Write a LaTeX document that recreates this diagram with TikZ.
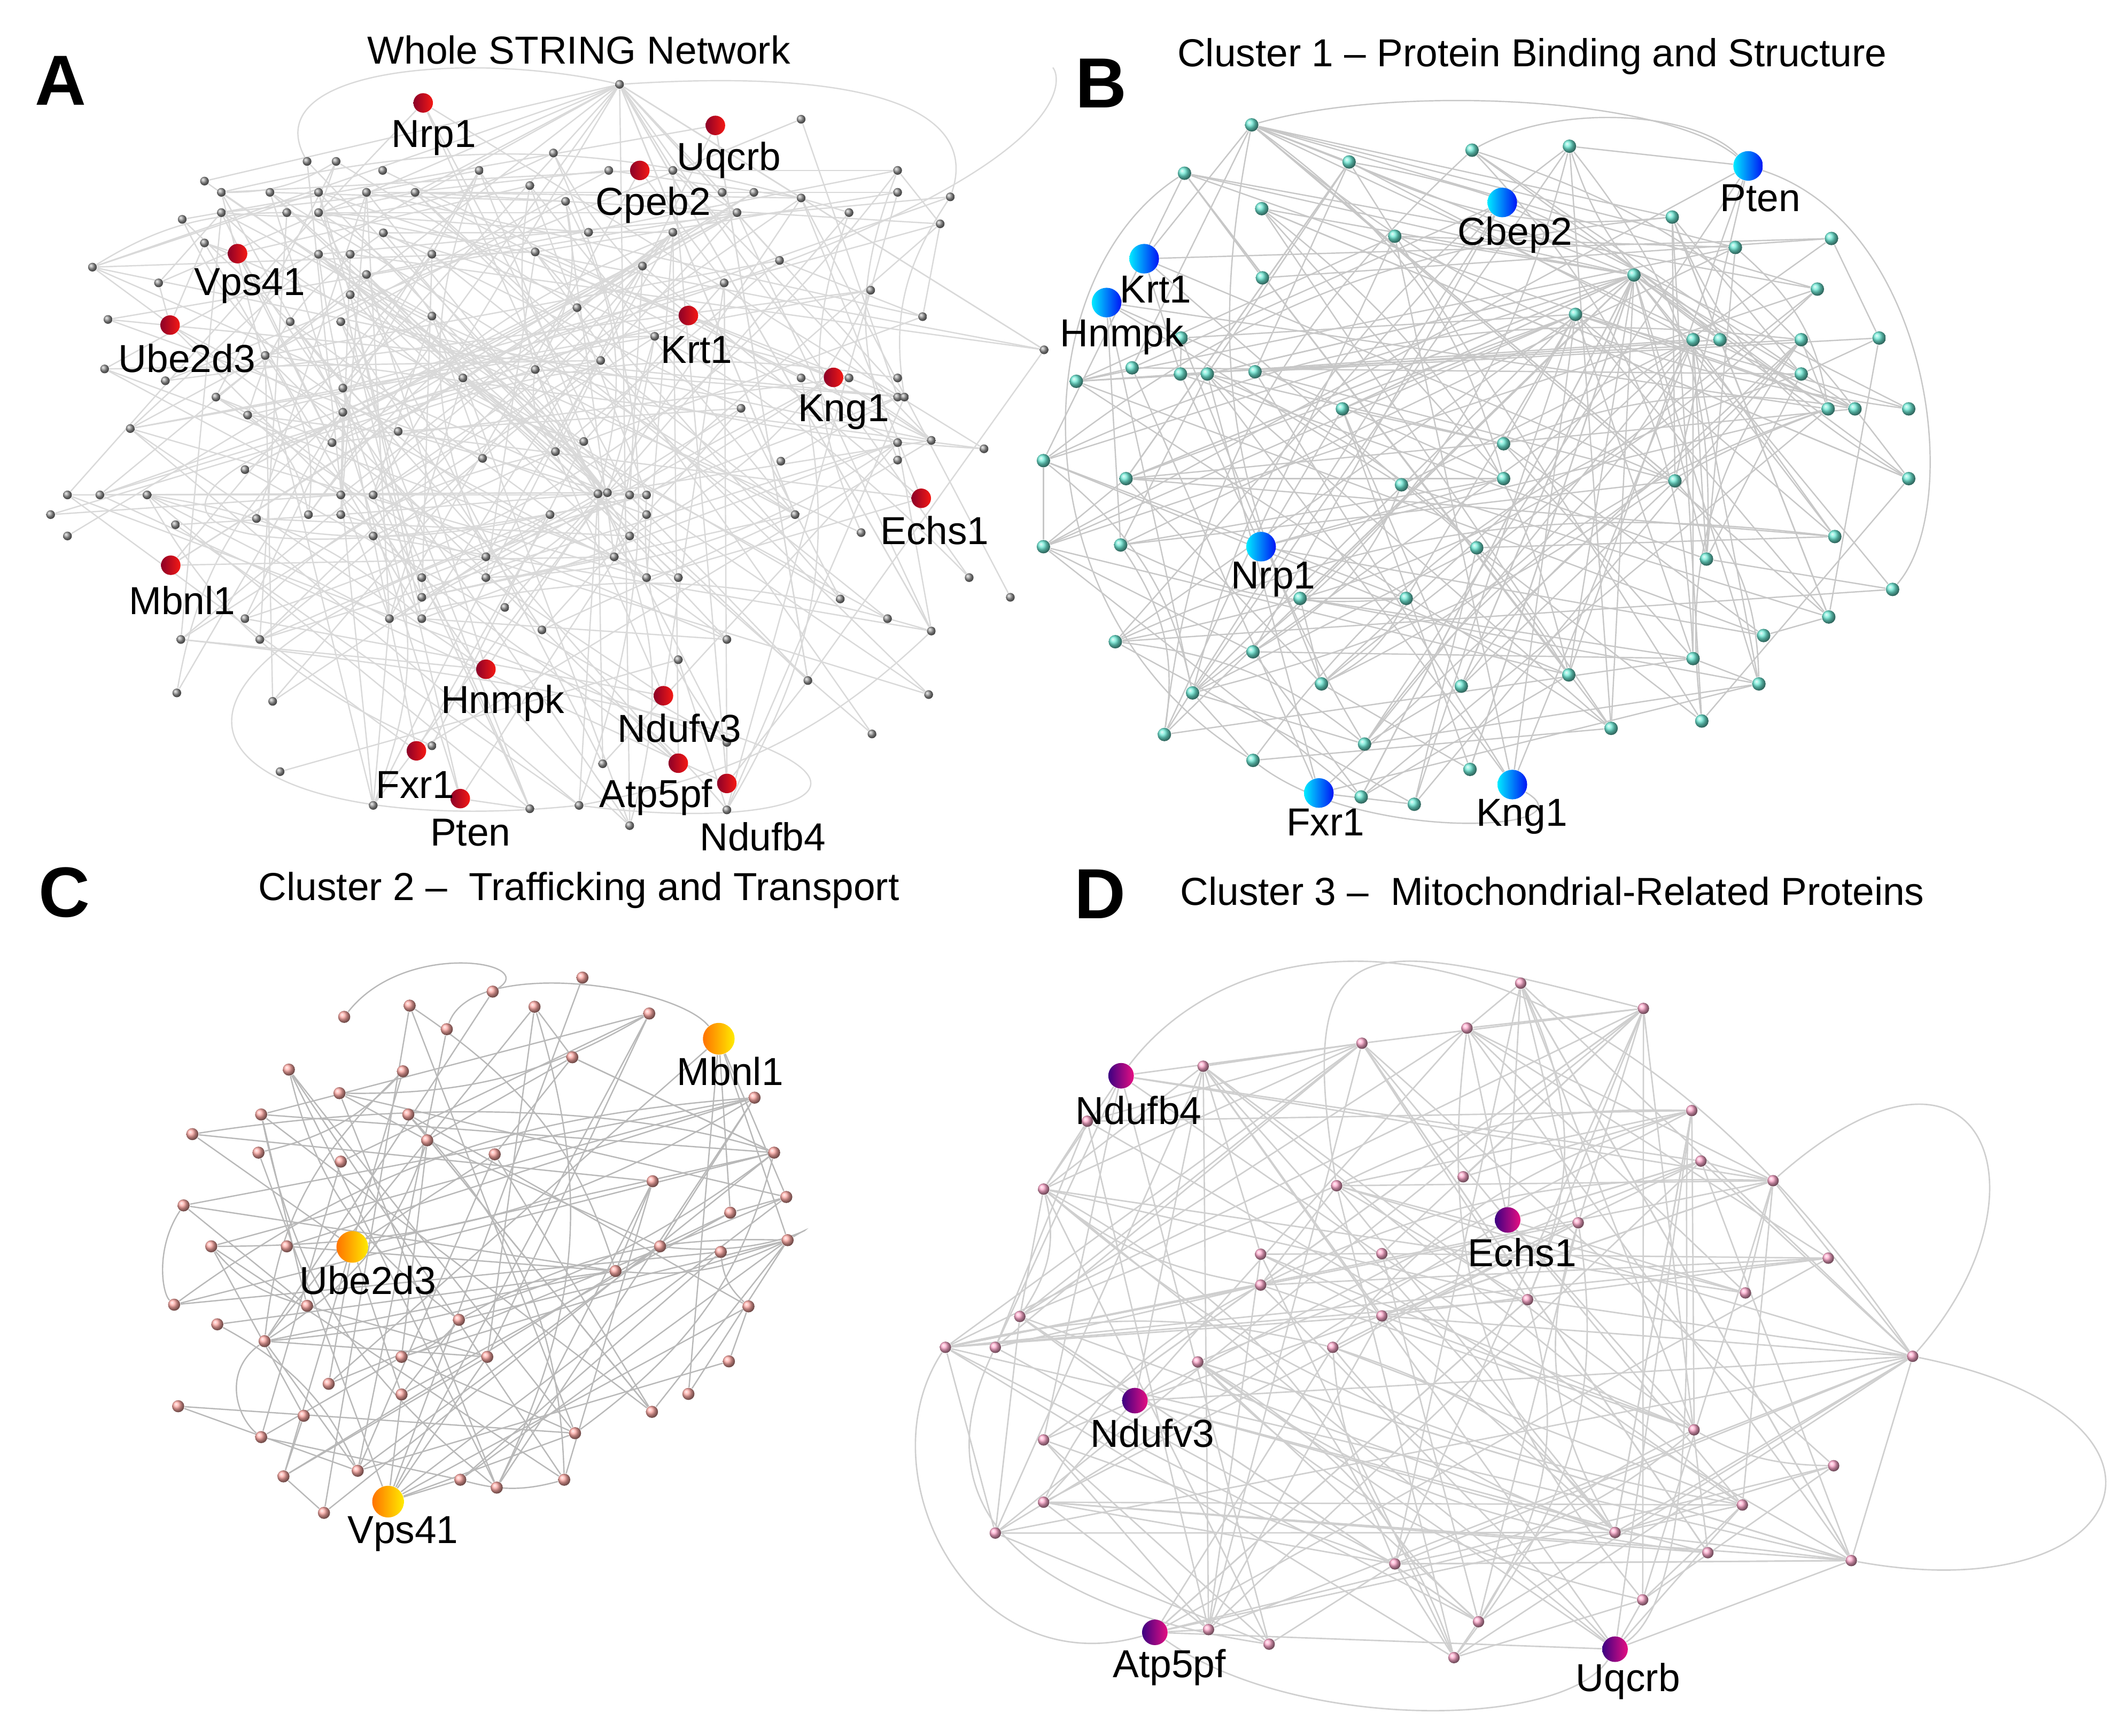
\documentclass[tikz,border=0pt]{standalone}
\usepackage{fontspec}
\setmainfont{Liberation Sans}
\pgfdeclarelayer{edges}
\pgfsetlayers{edges,main}
\definecolor{redL}{RGB}{140,0,40}
\definecolor{redR}{RGB}{245,25,20}
\definecolor{blueL}{RGB}{0,235,255}
\definecolor{blueR}{RGB}{0,20,245}
\definecolor{oraL}{RGB}{255,115,0}
\definecolor{oraR}{RGB}{255,235,0}
\definecolor{purL}{RGB}{60,0,130}
\definecolor{purR}{RGB}{230,15,130}
\definecolor{cyanN}{RGB}{110,235,215}
\definecolor{salN}{RGB}{255,170,165}
\definecolor{pinkN}{RGB}{255,170,205}
\tikzset{
  lbl/.style={font=\fontsize{16.5}{18}\selectfont, inner sep=0pt},
  ttl/.style={font=\fontsize{16.5}{18}\selectfont, inner sep=0pt},
  letter/.style={font=\fontsize{30}{32}\selectfont\bfseries, inner sep=0pt},
  keyred/.style={circle, inner sep=0pt, minimum size=0.29cm, left color=redL, right color=redR},
  keyblue/.style={circle, inner sep=0pt, minimum size=0.44cm, left color=blueL, right color=blueR},
  keyora/.style={circle, inner sep=0pt, minimum size=0.47cm, left color=oraL, right color=oraR},
  keypur/.style={circle, inner sep=0pt, minimum size=0.38cm, left color=purL, right color=purR},
  gnode/.style={circle, inner sep=0pt, minimum size=0.13cm, ball color=gray!80},
  cnode/.style={circle, inner sep=0pt, minimum size=0.2cm, ball color=cyanN},
  snode/.style={circle, inner sep=0pt, minimum size=0.18cm, ball color=salN},
  pnode/.style={circle, inner sep=0pt, minimum size=0.17cm, ball color=pinkN},
  edgeA/.style={draw=black!15, line width=0.55pt},
  edgeB/.style={draw=black!22, line width=0.55pt},
  edgeC/.style={draw=black!28, line width=0.55pt},
  edgeD/.style={draw=black!19, line width=0.6pt},
}
\newcommand\randedges[4]{%
  \foreach \k in {1,...,#3}{%
    \pgfmathrandominteger{\ii}{1}{#2}%
    \pgfmathrandominteger{\jj}{1}{#2}%
    \ifnum\ii=\jj\relax\else
      \pgfmathtruncatemacro\mm{mod(\k,5)}%
      \ifnum\mm=0\relax
        \draw[#4] (#1\ii) to[bend left=18] (#1\jj);
      \else
        \draw[#4] (#1\ii) -- (#1\jj);
      \fi
    \fi}}
\newcommand\hubedges[5]{%
  \foreach \k in {1,...,#4}{%
    \pgfmathrandominteger{\jj}{1}{#3}%
    \draw[#5] (#1) -- (#2\jj);}}
\begin{document}
\begin{tikzpicture}[x=0.02cm,y=-0.02cm]
\pgfmathsetseed{2024}
\path[use as bounding box] (0,0) rectangle (1568,1289);
% ---------- titles ----------
\node[letter] (letA) at (45,60) {A};
\node[letter] (letB) at (818,62) {B};
\node[letter] (letC) at (48,663) {C};
\node[letter] (letD) at (817,664) {D};
\node[ttl] (ttlA) at (430,37) {Whole STRING Network};
\node[ttl] (ttlB) at (1138,42) {Cluster 1 – Protein Binding and Structure};
\node[ttl] (ttlC) at (430,661) {Cluster 2 –~~Trafficking and Transport};
\node[ttl] (ttlD) at (1153,662) {Cluster 3 –~~Mitochondrial-Related Proteins};
% ================= PANEL A =================
\begin{scope}[xscale=0.5013, yscale=0.4177]
\foreach \x/\y [count=\n] in {1187/212, 455/287, 498/287, 567/303, 710/303, 820/272, 902/303, 997/303, 1330/303,
303/322, 328/342, 400/342, 472/342, 543/342, 615/342, 785/330, 838/358, 1070/342, 1117/342, 1187/352, 1330/342, 1408/350,
270/390, 328/378, 425/378, 472/378, 1092/378, 1258/378, 1393/398,
568/414, 872/413, 997/413,
303/432, 472/452, 519/452, 640/452, 793/448, 1155/463,
137/475, 235/503, 543/488, 519/524, 1073/503, 1290/516, 952/473,
160/568, 430/572, 505/572, 640/562, 855/547, 1367/563,
393/632, 970/598, 155/656, 245/677, 686/672, 793/657, 890/641, 1187/672, 1258/672, 1330/672, 1547/622,
320/706, 508/690, 367/738, 508/733, 1098/726, 1330/706, 1340/706,
193/762, 590/767, 492/787, 865/785, 823/803, 1330/787, 1380/783, 1458/798,
363/835, 715/815, 1157/820, 1330/818,
100/880, 148/880, 218/880, 505/880, 553/880, 886/878, 933/880, 958/880,
75/915, 380/922, 457/915, 505/915, 815/915, 958/915, 1178/915,
100/953, 260/933, 553/953, 933/953, 1276/947,
720/990, 910/990,
625/1027, 720/1027, 958/1027, 1005/1027, 1436/1027, 1497/1062,
625/1062, 748/1080, 1245/1065,
363/1100, 577/1100, 625/1100, 1315/1100,
268/1137, 385/1137, 803/1120, 1077/1137, 1380/1122,
1005/1173,
262/1232, 404/1247, 1197/1210, 1376/1235,
1292/1305,
640/1326, 1077/1320,
415/1372, 893/1358,
553/1432, 785/1438, 858/1432, 1077/1440, 933/1468}
{\node[gnode] (a\n) at (\x,\y) {}; \xdef\NA{\n}}
\node[gnode] (aHubTop) at (918,150) {};
\node[gnode] (aHubC) at (900,876) {};
\node[keyred] (aNrp1) at (627,183) {};
\node[keyred] (aUqcrb) at (1060,223) {};
\node[keyred] (aCpeb2) at (948,303) {};
\node[keyred] (aVps41) at (352,451) {};
\node[keyred] (aUbe2d3) at (252,578) {};
\node[keyred] (aKrt1) at (1020,561) {};
\node[keyred] (aKng1) at (1235,671) {};
\node[keyred] (aEchs1) at (1365,886) {};
\node[keyred] (aMbnl1) at (253,1005) {};
\node[keyred] (aHnmpk) at (720,1190) {};
\node[keyred] (aNdufv3) at (983,1237) {};
\node[keyred] (aFxr1) at (617,1335) {};
\node[keyred] (aPten) at (682,1420) {};
\node[keyred] (aAtp5pf) at (1005,1357) {};
\node[keyred] (aNdufb4) at (1077,1393) {};
\node[lbl] (laNrp1) at (643,245) {Nrp1};
\node[lbl] (laUqcrb) at (1080,285) {Uqcrb};
\node[lbl] (laCpeb2) at (968,365) {Cpeb2};
\node[lbl] (laVps41) at (370,508) {Vps41};
\node[lbl] (laUbe2d3) at (277,637) {Ube2d3};
\node[lbl] (laKrt1) at (1032,622) {Krt1};
\node[lbl] (laKng1) at (1250,733) {Kng1};
\node[lbl] (laEchs1) at (1385,943) {Echs1};
\node[lbl] (laMbnl1) at (270,1068) {Mbnl1};
\node[lbl] (laHnmpk) at (745,1250) {Hnmpk};
\node[lbl] (laNdufv3) at (1007,1295) {Ndufv3};
\node[lbl] (laFxr1) at (615,1395) {Fxr1};
\node[lbl] (laPten) at (697,1480) {Pten};
\node[lbl] (laAtp5pf) at (972,1418) {Atp5pf};
\node[lbl] (laNdufb4) at (1130,1488) {Ndufb4};
\begin{pgfonlayer}{edges}
\randedges{a}{\NA}{240}{edgeA}
\hubedges{aHubTop}{a}{\NA}{22}{edgeA}
\hubedges{aHubC}{a}{\NA}{22}{edgeA}
\foreach \kn in {aNrp1,aUqcrb,aCpeb2,aVps41,aUbe2d3,aKrt1,aKng1,aEchs1,aMbnl1,aHnmpk,aNdufv3,aFxr1,aPten,aAtp5pf,aNdufb4}
  {\hubedges{\kn}{a}{\NA}{4}{edgeA}}
\draw[edgeA] (a2) .. controls (380,120) and (700,90) .. (aHubTop);
\draw[edgeA] (aHubTop) .. controls (1300,120) and (1450,200) .. (a22);
\draw[edgeA] (a89) .. controls (20,1200) and (300,1500) .. (a134);
\draw[edgeA] (a134) .. controls (1300,1500) and (1500,1300) .. (a117);
\draw[edgeA] (a65) .. controls (1600,400) and (1580,150) .. (1560,120);
\draw[edgeA] (a58) .. controls (100,800) and (100,1100) .. (a89);
\end{pgfonlayer}
\end{scope}
% ================= PANEL B =================
\begin{scope}[shift={(786,0)}, xscale=0.499, yscale=0.4177]
\foreach \x/\y [count=\n] in {288/222, 433/288, 616/267, 761/260, 188/308, 303/371, 501/420, 914/386, 1008/440, 1151/424, 304/494, 1130/514, 770/559, 183/601, 945/604, 985/604, 1106/604, 1222/601, 27/678, 110/654, 182/665, 222/665, 293/661, 1106/665, 1146/727, 1186/727, 1266/727, 423/727, 663/789, 101/851, 511/862, 663/851, 918/855, 1266/851, 93/969, 623/974, 965/994, 1156/954, 360/1064, 518/1064, 1242/1048, 1147/1097, 1050/1130, 85/1141, 290/1159, 945/1171, 200/1232, 392/1216, 600/1220, 760/1200, 1043/1216, 158/1306, 456/1323, 823/1295, 958/1282, 290/1352, 613/1368, 451/1417, 530/1430, -22/819, -22/972}
{\node[cnode] (b\n) at (\x,\y) {}; \xdef\NB{\n}}
\node[cnode] (bHub) at (857,489) {};
\node[keyblue] (bPten) at (1027,295) {};
\node[keyblue] (bCbep2) at (661,360) {};
\node[keyblue] (bKrt1) at (128,460) {};
\node[keyblue] (bHnmpk) at (72,538) {};
\node[keyblue] (bNrp1) at (302,972) {};
\node[keyblue] (bFxr1) at (388,1410) {};
\node[keyblue] (bKng1) at (676,1395) {};
\node[lbl] (lbPten) at (1045,352) {Pten};
\node[lbl] (lbCbep2) at (680,418) {Cbep2};
\node[lbl] (lbKrt1) at (145,515) {Krt1};
\node[lbl] (lbHnmpk) at (95,598) {Hnmpk};
\node[lbl] (lbNrp1) at (320,1030) {Nrp1};
\node[lbl] (lbFxr1) at (398,1462) {Fxr1};
\node[lbl] (lbKng1) at (690,1452) {Kng1};
\begin{pgfonlayer}{edges}
\randedges{b}{\NB}{170}{edgeB}
\hubedges{bHub}{b}{\NB}{30}{edgeB}
\foreach \kn in {bPten,bCbep2,bKrt1,bHnmpk,bNrp1,bFxr1,bKng1}
  {\hubedges{\kn}{b}{\NB}{5}{edgeB}}
\draw[edgeB] (b1) .. controls (500,150) and (900,170) .. (bPten);
\draw[edgeB] (b5) .. controls (-60,500) and (-60,1100) .. (b56);
\draw[edgeB] (b56) .. controls (450,1500) and (800,1480) .. (bKng1);
\draw[edgeB] (bPten) .. controls (1300,400) and (1350,900) .. (b41);
\draw[edgeB] (b3) .. controls (750,180) and (950,200) .. (bPten);
\end{pgfonlayer}
\end{scope}
% ================= PANEL C =================
\begin{scope}[shift={(0,635.2)}, xscale=0.5013, yscale=0.4167]
\foreach \x/\y [count=\n] in {863/218, 730/243, 607/268, 792/270, 510/288, 962/282, 662/310, 848/360, 428/382, 597/385, 503/424, 1118/432, 387/462, 605/462, 285/497, 633/508, 383/530, 505/546, 733/533, 1147/530, 967/581, 272/624, 1165/609, 1082/637, 313/697, 425/697, 978/697, 1068/707, 1167/686, 912/741, 258/801, 455/803, 680/828, 1109/804, 322/836, 392/866, 595/894, 722/894, 1080/902, 487/942, 595/961, 1020/960, 264/982, 450/999, 966/992, 387/1037, 852/1030, 420/1107, 530/1097, 682/1113, 736/1127, 836/1113, 480/1172}
{\node[snode] (c\n) at (\x,\y) {}; \xdef\NC{\n}}
\node[keyora] (cMbnl1) at (1065,327) {};
\node[keyora] (cUbe2d3) at (522,698) {};
\node[keyora] (cVps41) at (575,1152) {};
\node[lbl] (lcMbnl1) at (1082,385) {Mbnl1};
\node[lbl] (lcUbe2d3) at (545,758) {Ube2d3};
\node[lbl] (lcVps41) at (597,1210) {Vps41};
\begin{pgfonlayer}{edges}
\randedges{c}{\NC}{100}{edgeC}
\foreach \kn in {cMbnl1,cUbe2d3}
  {\hubedges{\kn}{c}{\NC}{5}{edgeC}}
\hubedges{cVps41}{c}{\NC}{9}{edgeC}
\draw[edgeC] (c7) .. controls (700,180) and (1000,230) .. (cMbnl1);
\draw[edgeC] (c5) .. controls (600,150) and (800,190) .. (c2);
\draw[edgeC] (c22) .. controls (230,700) and (240,780) .. (c31);
\draw[edgeC] (c29) .. controls (1230,640) and (1150,720) .. (c27);
\draw[edgeC] (c36) .. controls (330,920) and (350,1000) .. (c46);
\draw[edgeC] (c15) .. controls (700,420) and (1000,470) .. (c20);
\end{pgfonlayer}
\end{scope}
% ================= PANEL D =================
\begin{scope}[shift={(674.9,635.2)}, xscale=0.5697, yscale=0.4167]
\foreach \x/\y [count=\n] in {798/228, 728/308, 384/376, 1021/455, 233/474, 1033/545, 1127/580, 176/595, 558/589, 723/573, 873/655, 459/711, 617/710, 1199/718, 459/766, 1091/780, 807/792, 145/822, 617/821, 48/877, 113/877, 553/877, 377/903, 1024/1024, 176/1042, 1206/1088, 176/1153, 1087/1158, 113/1208, 921/1207, 634/1263, 1042/1243, 957/1327, 743/1366, 391/1380, 470/1406, 711/1430}
{\node[pnode] (d\n) at (\x,\y) {}; \xdef\ND{\n}}
\node[pnode] (dHub1) at (591,335) {};
\node[pnode] (dHub2) at (958,273) {};
\node[pnode] (dHub3) at (1229,1257) {};
\node[pnode] (dHub4) at (1309,893) {};
\node[keypur] (dNdufb4) at (277,393) {};
\node[keypur] (dEchs1) at (781,650) {};
\node[keypur] (dNdufv3) at (295,972) {};
\node[keypur] (dAtp5pf) at (321,1385) {};
\node[keypur] (dUqcrb) at (921,1415) {};
\node[lbl] (ldNdufb4) at (300,455) {Ndufb4};
\node[lbl] (ldEchs1) at (800,708) {Echs1};
\node[lbl] (ldNdufv3) at (318,1030) {Ndufv3};
\node[lbl] (ldAtp5pf) at (340,1447) {Atp5pf};
\node[lbl] (ldUqcrb) at (938,1472) {Uqcrb};
\begin{pgfonlayer}{edges}
\randedges{d}{\ND}{120}{edgeD}
\foreach \hb in {dHub1,dHub2,dHub3,dHub4}
  {\hubedges{\hb}{d}{\ND}{12}{edgeD}}
\foreach \kn in {dNdufb4,dEchs1,dNdufv3,dAtp5pf,dUqcrb}
  {\hubedges{\kn}{d}{\ND}{7}{edgeD}}
\draw[edgeD] (dNdufb4) -- (dHub1) -- (dHub2);
\draw[edgeD] (dAtp5pf) -- (dUqcrb) -- (dHub3) -- (dHub4);
\draw[edgeD] (dNdufv3) -- (dHub4);
\draw[edgeD] (dHub4) .. controls (1700,1000) and (1600,1350) .. (dHub3);
\draw[edgeD] (d7) .. controls (1400,250) and (1500,600) .. (dHub4);
\draw[edgeD] (dNdufb4) .. controls (450,80) and (900,60) .. (dHub4);
\draw[edgeD] (d20) .. controls (-60,1100) and (80,1480) .. (dAtp5pf);
\draw[edgeD] (dAtp5pf) .. controls (500,1560) and (850,1560) .. (dUqcrb);
\draw[edgeD] (d21) .. controls (0,1200) and (200,1350) .. (d36);
\draw[edgeD] (d9) .. controls (500,100) and (600,150) .. (dHub2);
\draw[edgeD] (dUqcrb) .. controls (1050,1300) and (1000,600) .. (d4);
\end{pgfonlayer}
\end{scope}
\end{tikzpicture}
\end{document}
